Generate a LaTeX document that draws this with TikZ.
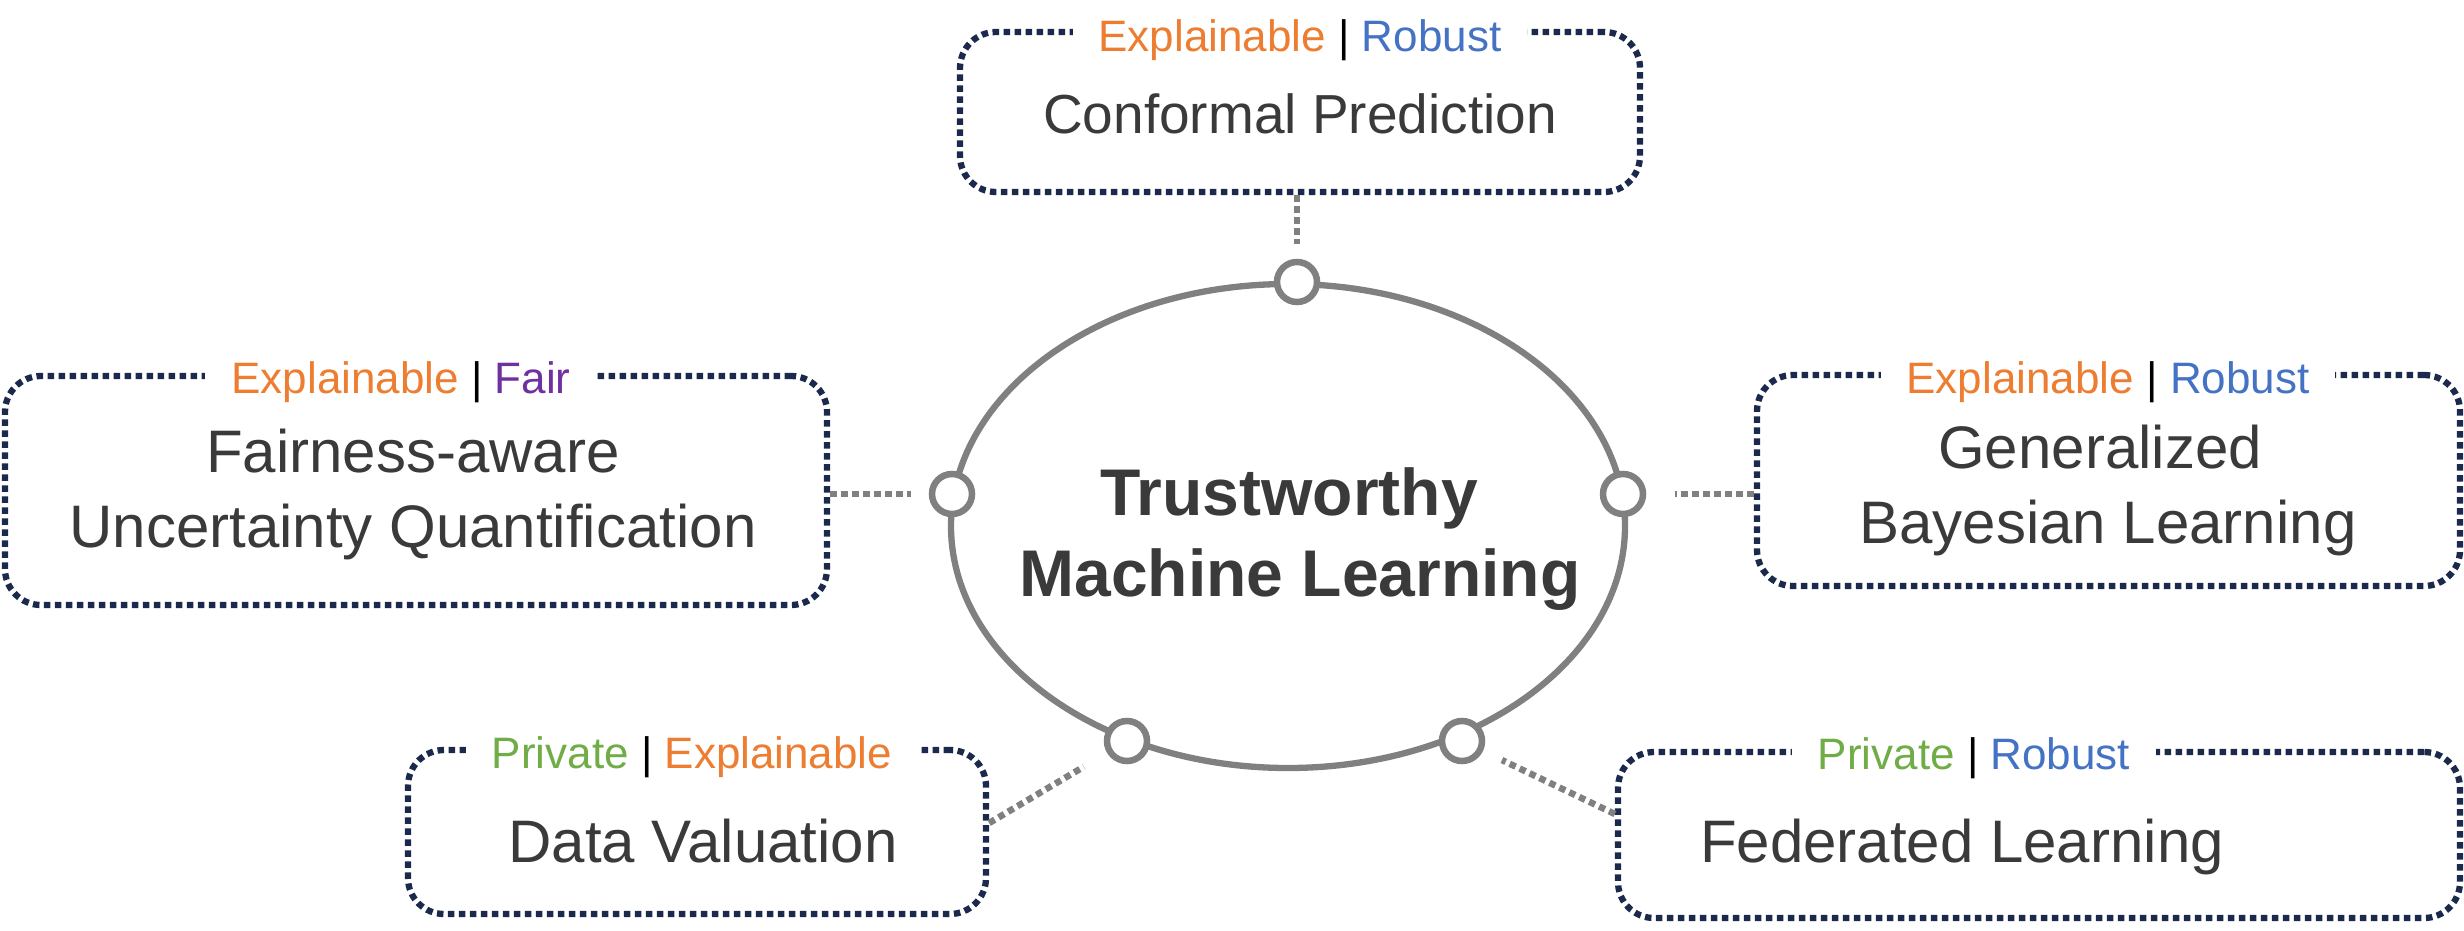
\documentclass[tikz,border=0pt]{standalone}
\usepackage{fontspec}
\setmainfont{Liberation Sans}
\usetikzlibrary{calc,shapes.geometric}
\definecolor{navy}{HTML}{1B2A4C}
\definecolor{cgray}{HTML}{808080}
\definecolor{tgray}{HTML}{3A3A3A}
\definecolor{orng}{HTML}{ED7D31}
\definecolor{blu}{HTML}{4472C4}
\definecolor{grn}{HTML}{70AD47}
\definecolor{purp}{HTML}{7030A0}
\newcommand{\tagsep}{\textcolor{black}{|}}
\begin{document}
\begin{tikzpicture}[x=1pt,y=-1pt,
  topicbox/.style={draw=navy, line width=6.3pt, dash pattern=on 6.5pt off 4.5pt,
    rounded corners=36pt, inner sep=0pt, rectangle},
  tagline/.style={fill=white, inner xsep=26pt, inner ysep=4pt, anchor=base,
    font=\fontsize{44}{50}\selectfont},
  maintext/.style={text=tgray, inner sep=0pt, anchor=base,
    font=\fontsize{60}{70}\selectfont},
  titletext/.style={text=tgray, inner sep=0pt, anchor=base,
    font=\fontsize{66}{76}\selectfont\bfseries},
  port/.style={circle, draw=cgray, line width=6.5pt, fill=white,
    minimum size=40pt, inner sep=0pt},
  core/.style={ellipse, draw=cgray, line width=6.3pt, inner sep=0pt},
  conn/.style={draw=cgray, line width=6.5pt, dash pattern=on 6.5pt off 4.5pt}
]
\useasboundingbox (0,0) rectangle (2464,931);
\fill[white] (0,0) rectangle (2464,931);

% central ellipse
\node[core, minimum width=674pt, minimum height=484pt] (hub) at (1288,526) {};
\node[titletext] (t1) at (1289,515) {Trustworthy};
\node[titletext] (t2) at (1300,596) {Machine Learning};

% ports on the ellipse
\node[port] (cT) at (1297,282) {};
\node[port] (cL) at (952,494) {};
\node[port] (cR) at (1623,494) {};
\node[port] (cBL) at (1127,741) {};
\node[port] (cBR) at (1462,741) {};

% topic boxes
\node[topicbox, minimum width=680pt, minimum height=160pt] (boxCP) at (1300,112) {};
\node[topicbox, minimum width=822pt, minimum height=229pt] (boxFA) at (416,490.5) {};
\node[topicbox, minimum width=703pt, minimum height=211pt] (boxGB) at (2108.5,480.5) {};
\node[topicbox, minimum width=578pt, minimum height=164pt] (boxDV) at (697,832) {};
\node[topicbox, minimum width=842pt, minimum height=166pt] (boxFL) at (2039,835) {};

% tag lines
\node[tagline] (tagCP) at (1300,52) {\textcolor{orng}{Explainable} \tagsep{} \textcolor{blu}{Robust}};
\node[tagline] (tagFA) at (401,393) {\textcolor{orng}{Explainable} \tagsep{} \textcolor{purp}{Fair}};
\node[tagline] (tagGB) at (2108,393) {\textcolor{orng}{Explainable} \tagsep{} \textcolor{blu}{Robust}};
\node[tagline] (tagDV) at (692,768) {\textcolor{grn}{Private} \tagsep{} \textcolor{orng}{Explainable}};
\node[tagline] (tagFL) at (1974,769) {\textcolor{grn}{Private} \tagsep{} \textcolor{blu}{Robust}};

% main texts
\node[maintext, font=\fontsize{55}{64}\selectfont] (mCP) at (1300,133) {Conformal Prediction};
\node[maintext] (mFA1) at (413,472) {Fairness-aware};
\node[maintext] (mFA2) at (413,547) {Uncertainty Quantification};
\node[maintext] (mGB1) at (2100,468) {Generalized};
\node[maintext] (mGB2) at (2108,543) {Bayesian Learning};
\node[maintext] (mDV) at (703,862) {Data Valuation};
\node[maintext] (mFL) at (1962,862) {Federated Learning};

% connectors
\draw[conn, shorten >=15pt] (boxCP.south -| cT) -- (cT);
\draw[conn, shorten >=18pt] (cL -| boxFA.east) -- (cL);
\draw[conn, shorten >=29pt] (cR -| boxGB.west) -- (cR);
\draw[conn, shorten >=27pt] ($(boxDV.east)+(0,-9)$) -- (cBL);
\draw[conn, shorten >=21pt] ($(boxFL.west)+(0,-21)$) -- (cBR);
\end{tikzpicture}
\end{document}
